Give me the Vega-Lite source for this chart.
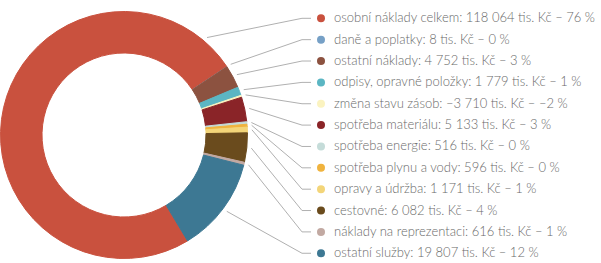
{
  "$schema": "https://vega.github.io/schema/vega-lite/v6.json",
  "width": 601,
  "height": 263,
  "autosize": "none",
  "padding": 0,
  "background": "white",
  "config": {"view": {"stroke": null}},
  "data": {
    "values": [
      {"i": 0, "kategorie": "osobní náklady celkem", "hodnota": 118064, "procento": 76, "vysec": 118064},
      {"i": 1, "kategorie": "daně a poplatky", "hodnota": 8, "procento": 0, "vysec": 8},
      {"i": 2, "kategorie": "ostatní náklady", "hodnota": 4752, "procento": 3, "vysec": 4752},
      {"i": 3, "kategorie": "odpisy, opravné položky", "hodnota": 1779, "procento": 1, "vysec": 1779},
      {"i": 4, "kategorie": "změna stavu zásob", "hodnota": -3710, "procento": -2, "vysec": 400},
      {"i": 5, "kategorie": "spotřeba materiálu", "hodnota": 5133, "procento": 3, "vysec": 5133},
      {"i": 6, "kategorie": "spotřeba energie", "hodnota": 516, "procento": 0, "vysec": 516},
      {"i": 7, "kategorie": "spotřeba plynu a vody", "hodnota": 596, "procento": 0, "vysec": 596},
      {"i": 8, "kategorie": "opravy a údržba", "hodnota": 1171, "procento": 1, "vysec": 1171},
      {"i": 9, "kategorie": "cestovné", "hodnota": 6082, "procento": 4, "vysec": 6082},
      {"i": 10, "kategorie": "náklady na reprezentaci", "hodnota": 616, "procento": 1, "vysec": 616},
      {"i": 11, "kategorie": "ostatní služby", "hodnota": 19807, "procento": 12, "vysec": 19807}
    ]
  },
  "transform": [
    {"joinaggregate": [{"op": "sum", "field": "vysec", "as": "celkem"}]},
    {"window": [{"op": "sum", "field": "vysec", "as": "kum"}], "sort": [{"field": "i"}], "frame": [null, 0]},
    {"calculate": "2.601 + 2*PI*(datum.kum - datum.vysec)/datum.celkem", "as": "a0"},
    {"calculate": "2.601 + 2*PI*datum.kum/datum.celkem", "as": "a1"},
    {"calculate": "datum.i == 0 ? datum.a1 - 0.28 : (datum.a0 + datum.a1)/2", "as": "kotva"},
    {"calculate": "124 + 128*sin(datum.kotva)", "as": "ax"},
    {"calculate": "135 - 128*cos(datum.kotva)", "as": "ay"},
    {"calculate": "18.3 + 21.36*datum.i", "as": "ry"},
    {"calculate": "302", "as": "bx"},
    {"calculate": "311", "as": "ex"},
    {"calculate": "321", "as": "dx"},
    {"calculate": "334", "as": "tx"},
    {"calculate": "(datum.hodnota < 0 ? '–' : '') + replace(format(abs(datum.hodnota), ','), ',', ' ')", "as": "cislo"},
    {"calculate": "datum.kategorie + ': ' + datum.cislo + ' tis. Kč – ' + (datum.procento < 0 ? '–' : '') + abs(datum.procento) + ' %'", "as": "popisek"}
  ],
  "layer": [
    {
      "mark": {"type": "arc", "outerRadius": 123.5, "innerRadius": 82, "strokeWidth": 1},
      "encoding": {
        "x": {"datum": 124, "type": "quantitative", "scale": {"domain": [0, 601], "nice": false, "zero": false}, "axis": null},
        "y": {"datum": 135, "type": "quantitative", "scale": {"domain": [0, 263], "nice": false, "zero": false, "reverse": true}, "axis": null},
        "theta": {"field": "vysec", "type": "quantitative", "stack": true, "scale": {"range": [2.601, 8.8842]}},
        "order": {"field": "i", "type": "quantitative"},
        "color": {
          "field": "kategorie", "type": "nominal", "legend": null,
          "scale": {
            "domain": ["osobní náklady celkem", "daně a poplatky", "ostatní náklady", "odpisy, opravné položky", "změna stavu zásob", "spotřeba materiálu", "spotřeba energie", "spotřeba plynu a vody", "opravy a údržba", "cestovné", "náklady na reprezentaci", "ostatní služby"],
            "range": ["#c9513e", "#76a0c6", "#8c5240", "#5bb6c3", "#fbf3c0", "#8a2428", "#c5dcd9", "#f0b33e", "#f3d579", "#6a4b1d", "#c2a9a2", "#3d7893"]
          }
        },
        "stroke": {
          "field": "kategorie", "type": "nominal", "legend": null,
          "scale": {
            "domain": ["osobní náklady celkem", "daně a poplatky", "ostatní náklady", "odpisy, opravné položky", "změna stavu zásob", "spotřeba materiálu", "spotřeba energie", "spotřeba plynu a vody", "opravy a údržba", "cestovné", "náklady na reprezentaci", "ostatní služby"],
            "range": ["#c9513e", "#8f9aa6", "#8c5240", "#5bb6c3", "#fbf3c0", "#8a2428", "#c5dcd9", "#f0b33e", "#f3d579", "#6a4b1d", "#c2a9a2", "#3d7893"]
          }
        }
      }
    },
    {
      "mark": {"type": "rule", "color": "#b0b0b0", "strokeWidth": 1},
      "encoding": {
        "x": {"field": "ax", "type": "quantitative"},
        "y": {"field": "ay", "type": "quantitative"},
        "x2": {"field": "bx"},
        "y2": {"field": "ry"}
      }
    },
    {
      "mark": {"type": "rule", "color": "#b0b0b0", "strokeWidth": 1},
      "encoding": {
        "x": {"field": "bx", "type": "quantitative"},
        "y": {"field": "ry", "type": "quantitative"},
        "x2": {"field": "ex"}
      }
    },
    {
      "mark": {"type": "point", "filled": true, "size": 64, "opacity": 1},
      "encoding": {
        "x": {"field": "dx", "type": "quantitative"},
        "y": {"field": "ry", "type": "quantitative"},
        "color": {"field": "kategorie", "type": "nominal", "legend": null}
      }
    },
    {
      "mark": {"type": "text", "align": "left", "baseline": "middle", "font": "Lato", "fontWeight": 300, "fontSize": 13, "color": "#6a6a6a"},
      "encoding": {
        "x": {"field": "tx", "type": "quantitative"},
        "y": {"field": "ry", "type": "quantitative"},
        "text": {"field": "popisek"}
      }
    }
  ]
}
